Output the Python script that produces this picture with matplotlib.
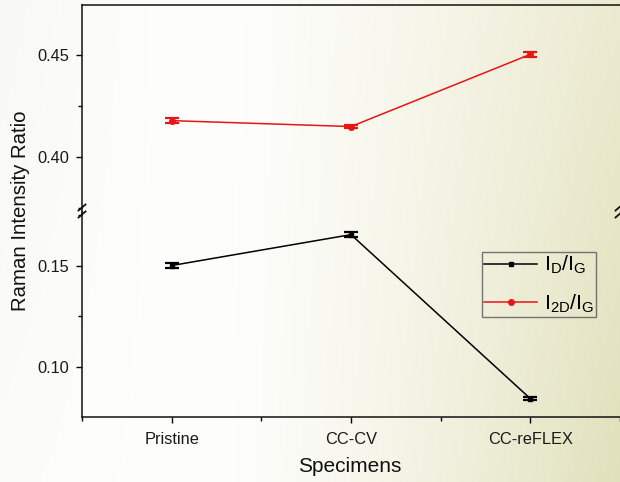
import numpy as np
import matplotlib
matplotlib.use("Agg")
import matplotlib.pyplot as plt
from matplotlib.lines import Line2D
from matplotlib.ticker import MultipleLocator, FixedLocator

# Raman intensity ratios per specimen (mean and error)
specimens = ["Pristine", "CC-CV", "CC-reFLEX"]
id_ig = [0.1502, 0.1655, 0.0843]
id_ig_err = [0.0012, 0.0011, 0.0007]
i2d_ig = [0.4178, 0.4149, 0.4503]
i2d_ig_err = [0.0013, 0.0008, 0.0012]

plt.rcParams["font.family"] = ["Liberation Sans", "DejaVu Sans"]
plt.rcParams["mathtext.fontset"] = "custom"
plt.rcParams["mathtext.rm"] = "Liberation Sans"
plt.rcParams["mathtext.it"] = "Liberation Sans:italic"

W, H = 620, 482
fig = plt.figure(figsize=(W / 100, H / 100), dpi=100)

# soft cream backdrop, whiter in the middle, olive-beige towards the right
bg = fig.add_axes([0, 0, 1, 1], zorder=-10)
xx = np.linspace(0, 1, W)[None, :, None]
yy = np.linspace(0, 1, H)[:, None, None]
white = np.array([0.995, 0.995, 0.99])
left_col = np.array([0.955, 0.958, 0.93])
right_top = np.array([0.925, 0.918, 0.815])
right_bot = np.array([0.88, 0.88, 0.735])
right_col = right_top * (1 - yy) + right_bot * yy
wr = np.clip((xx - 0.33) / 0.67, 0, 1) ** 1.4
wl = np.clip((0.28 - xx) / 0.28, 0, 1) * 0.55 * (1 - 0.6 * yy)
img = white * (1 - wr) + right_col * wr
img = img * (1 - wl) + left_col * wl
bg.imshow(img, aspect="auto", extent=[0, 1, 0, 1], interpolation="bilinear")
bg.axis("off")

x = np.arange(1, len(specimens) + 1)

left = 82 / W
width = 1 - left
y_top, y_mid, y_bot = 5, 212, 417
ax_top = fig.add_axes([left, 1 - y_mid / H, width, (y_mid - y_top) / H])
ax_bot = fig.add_axes([left, 1 - y_bot / H, width, (y_bot - y_mid) / H])

lw = 1.1
red = "#e81515"
# I2D/IG in the upper segment
l2, = ax_top.plot(x, i2d_ig, color=red, lw=lw, marker="o", ms=4, label=r"$\mathregular{I_{2D}/I_G}$")
ax_top.errorbar(x, i2d_ig, yerr=i2d_ig_err, fmt="none", ecolor=red,
                elinewidth=1.8, capsize=5, capthick=1.6)
# ID/IG in the lower segment
l1, = ax_bot.plot(x, id_ig, color="black", lw=lw, marker="s", ms=3.5, label=r"$\mathregular{I_D/I_G}$")
ax_bot.errorbar(x, id_ig, yerr=id_ig_err, fmt="none", ecolor="black",
                elinewidth=1.8, capsize=5, capthick=1.6)

ax_top.set_ylim(0.3730, 0.4745)
ax_bot.set_ylim(0.0752, 0.1767)

for ax in (ax_top, ax_bot):
    ax.set_facecolor("none")
    ax.set_xlim(0.5, 3.5)
    ax.spines["right"].set_visible(False)
    for s in ("left", "top", "bottom"):
        ax.spines[s].set_linewidth(1.1)
        ax.spines[s].set_color("#111111")
    ax.yaxis.set_major_locator(MultipleLocator(0.05))
    ax.yaxis.set_minor_locator(MultipleLocator(0.025))
    ax.yaxis.set_major_formatter(plt.FormatStrFormatter("%.2f"))
    ax.tick_params(axis="y", which="major", direction="out", length=4.5, width=1.0,
                   labelsize=11.8, pad=5, labelcolor="#1a1a1a", right=False)
    ax.tick_params(axis="y", which="minor", direction="out", length=3, width=1.0, right=False)

ax_top.spines["bottom"].set_visible(False)
ax_top.tick_params(axis="x", which="both", bottom=False, labelbottom=False)

ax_bot.spines["top"].set_visible(False)
ax_bot.xaxis.set_major_locator(FixedLocator(x))
ax_bot.xaxis.set_minor_locator(FixedLocator([0.5, 1.5, 2.5, 3.5]))
ax_bot.set_xticklabels(specimens)
ax_bot.tick_params(axis="x", which="major", direction="out", length=4.5, width=1.0,
                   labelsize=11.8, pad=6, labelcolor="#1a1a1a")
ax_bot.tick_params(axis="x", which="minor", direction="out", length=3, width=1.0)

# axis break marks on the vertical axis
def px(xp, yp):
    return xp / W, 1 - yp / H

for xc in (82, 619):
    for yc in (207.5, 214.5):
        (x0, y0), (x1, y1) = px(xc - 3.5, yc + 3), px(xc + 3.5, yc - 3)
        fig.add_artist(Line2D([x0, x1], [y0, y1], transform=fig.transFigure,
                              color="#111111", lw=1.3))

fig.text(21 / W, 1 - 211 / H, "Raman Intensity Ratio", rotation=90,
         ha="center", va="center", fontsize=14.7, color="#111111")
fig.text(350 / W, 1 - 467 / H, "Specimens", ha="center", va="center",
         fontsize=15, color="#111111")

leg = ax_bot.legend(handles=[l1, l2], loc="upper left",
                    bbox_to_anchor=(482 / W, 1 - 252 / H), bbox_transform=fig.transFigure,
                    fontsize=15.3, frameon=True, fancybox=False, borderpad=0.1,
                    handlelength=2.5, handletextpad=0.3, labelspacing=0.75,
                    borderaxespad=0)
leg.get_frame().set_edgecolor("#555555")
leg.get_frame().set_linewidth(1.0)
leg.get_frame().set_facecolor("none")

fig.savefig("out.png", dpi=100)
